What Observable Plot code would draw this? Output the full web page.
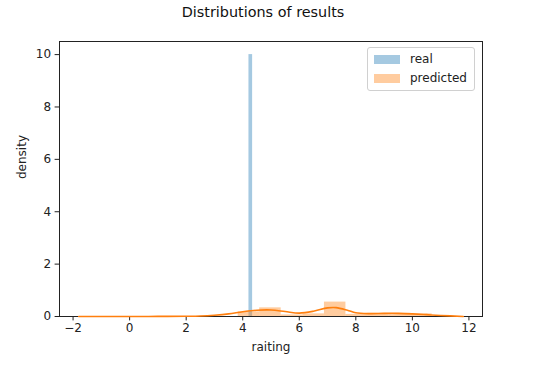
<!DOCTYPE html>
<html><head><meta charset="utf-8">
<script src="https://cdn.jsdelivr.net/npm/d3@7"></script>
<script src="https://cdn.jsdelivr.net/npm/@observablehq/plot@0.6"></script>
<style>
body{margin:0;background:#fff;font-family:"DejaVu Sans",sans-serif;}
#wrap{position:relative;width:540px;height:366px;}
#legend{position:absolute;left:367px;top:47px;width:106px;height:42px;border:1px solid #d0d0d0;border-radius:3px;background:rgba(255,255,255,0.8);font-size:12px;color:#222;}
.item{position:absolute;left:6px;height:14px;display:flex;align-items:center;}
.sw{width:26px;height:9px;margin-right:10px;}
</style>
</head><body><div id="wrap"><div id="chart"></div><div id="legend"></div></div>
<script>
const title = "Distributions of results";
const xLabel = "raiting";
const yLabel = "density";
const seriesNames = ["real", "predicted"];
const seriesColors = ["#1f77b4", "#ff7f0e"];
const xTicks = [-2, 0, 2, 4, 6, 8, 10, 12];
const yTicks = [0, 2, 4, 6, 8, 10];

// real: a single narrow bin
const realBinStart = [4.22];
const realBinEnd = [4.35];
const realDensity = [10.0];

// predicted histogram (density)
const predBinStart = [3.84, 4.60, 5.36, 6.13, 6.89, 7.65, 8.42, 9.18, 9.94];
const predBinEnd   = [4.60, 5.36, 6.13, 6.89, 7.65, 8.42, 9.18, 9.94, 10.70];
const predDensity  = [0.18, 0.33, 0.06, 0.10, 0.55, 0.08, 0.12, 0.12, 0.10];

// predicted KDE
const kdeX = [-1.8, 0, 1, 2, 2.5, 3, 3.5, 4, 4.5, 5, 5.5, 6, 6.5, 7, 7.3, 7.7, 8, 8.5, 9, 9.5, 10, 10.5, 11, 11.8];
const kdeY = [0.0, 0.0, 0.003, 0.01, 0.02, 0.05, 0.10, 0.18, 0.24, 0.25, 0.19, 0.13, 0.20, 0.33, 0.34, 0.24, 0.14, 0.11, 0.12, 0.12, 0.10, 0.07, 0.04, 0.0];

const real = realBinStart.map((s, i) => ({x1: s, x2: realBinEnd[i], y: realDensity[i]}));
const pred = predBinStart.map((s, i) => ({x1: s, x2: predBinEnd[i], y: predDensity[i]}));
const kde = kdeX.map((x, i) => ({x, y: kdeY[i]}));
const fmt = d => d < 0 ? "\u2212" + Math.abs(d) : String(d);

const chart = Plot.plot({
  width: 540,
  height: 366,
  marginLeft: 59,
  marginRight: 58,
  marginTop: 41,
  marginBottom: 50,
  style: {fontFamily: "DejaVu Sans", fontSize: "12px", color: "#222", background: "#fff"},
  x: {domain: [-2.48, 12.48], ticks: xTicks, tickFormat: fmt, label: null},
  y: {domain: [0, 10.5], ticks: yTicks, label: null},
  marks: [
    Plot.rectY(real, {x1: "x1", x2: "x2", y1: 0, y2: "y", fill: seriesColors[0], fillOpacity: 0.4, inset: 0}),
    Plot.rectY(pred, {x1: "x1", x2: "x2", y1: 0, y2: "y", fill: seriesColors[1], fillOpacity: 0.4, inset: 0}),
    Plot.axisX({ticks: xTicks, tickSize: 4.4, tickPadding: 3, fontSize: 12, tickFormat: fmt, label: null}),
    Plot.axisY({ticks: yTicks, tickSize: 4.4, tickPadding: 4, fontSize: 12, label: null}),
    Plot.frame({stroke: "#222", strokeWidth: 1}),
    Plot.line(kde, {x: "x", y: "y", stroke: seriesColors[1], strokeWidth: 1.6, curve: "catmull-rom"}),
    Plot.text([xLabel], {frameAnchor: "bottom", dy: 31, text: d => d, fontSize: 12, lineAnchor: "middle", fill: "#222"}),
    Plot.text([yLabel], {frameAnchor: "left", dx: -37, rotate: -90, text: d => d, fontSize: 12, lineAnchor: "middle", fill: "#222"}),
    Plot.text([title], {frameAnchor: "top", dy: -29, dx: -8, text: d => d, fontSize: 14.4, lineAnchor: "middle", fill: "#111"})
  ]
});
document.getElementById("chart").appendChild(chart);

const legend = document.getElementById("legend");
seriesNames.forEach((name, i) => {
  const item = document.createElement("div");
  item.className = "item";
  item.style.top = (4 + i * 19) + "px";
  const sw = document.createElement("span");
  sw.className = "sw";
  sw.style.background = seriesColors[i];
  sw.style.opacity = 0.4;
  const t = document.createElement("span");
  t.textContent = name;
  item.appendChild(sw);
  item.appendChild(t);
  legend.appendChild(item);
});
</script>
</body></html>
